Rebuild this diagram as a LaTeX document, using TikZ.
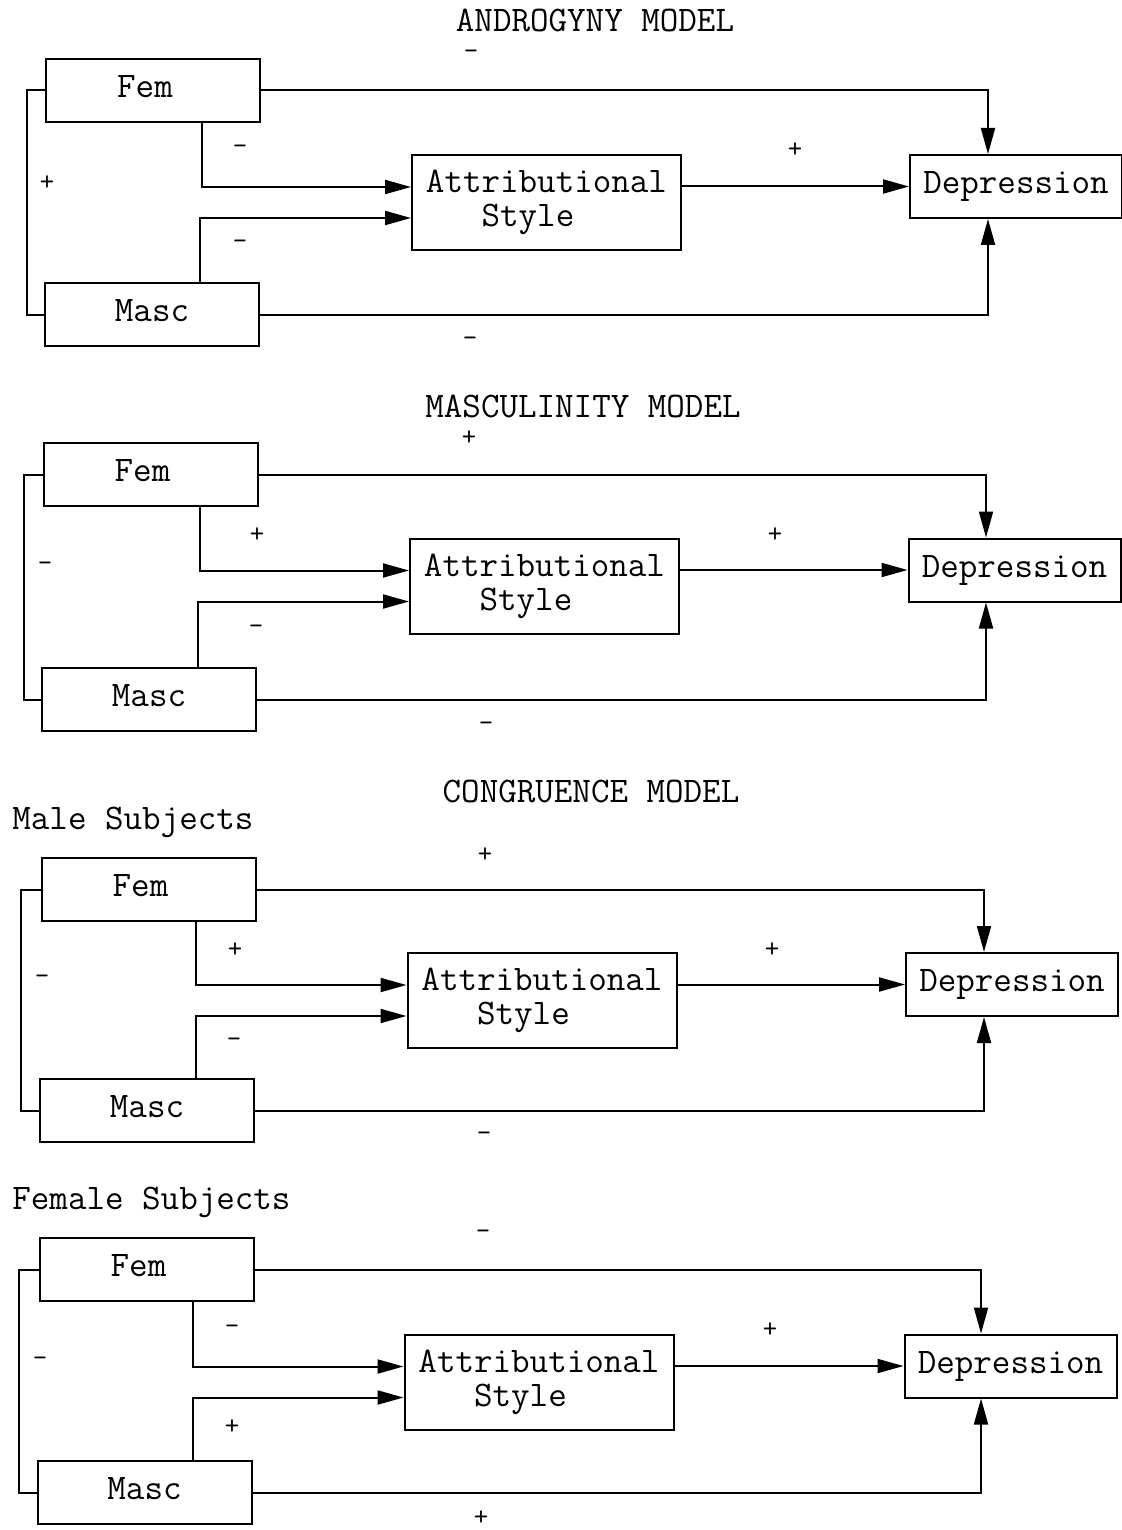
\documentclass[tikz,border=0pt]{standalone}
\usepackage{fontspec}
\usetikzlibrary{arrows.meta}
\tikzset{
  box/.style={draw, line width=1pt, inner sep=0pt, font=\ttfamily\fontsize{18}{17}\selectfont},
  smallbox/.style={box, minimum width=107pt, minimum height=31.5pt, text height=11pt, text depth=4pt},
  asbox/.style={box, minimum width=134.5pt, minimum height=47.5pt, align=left},
  depbox/.style={box, minimum width=106pt, minimum height=31.5pt, text height=11pt, text depth=4pt},
  lab/.style={font=\ttfamily\fontsize{18}{17}\selectfont, inner sep=0pt},
  sign/.style={font=\ttfamily\fontsize{14}{14}\selectfont, inner sep=0pt},
  conn/.style={line width=1pt},
  arr/.style={conn, -{Triangle[length=13pt,width=7pt]}},
}
\newcommand{\astext}{Attributional\\\phantom{AAA}Style}
\newcommand{\femtext}{Fem\kern8pt}
\begin{document}
\begin{tikzpicture}[x=0.5pt,y=-0.5pt]
\useasboundingbox (0,0) rectangle (1121,1530);

% ---------------- Panel 1: Androgyny ----------------
\node[lab] (t1) at (595,20) {ANDROGYNY MODEL};
\node[smallbox] (f1) at (153,90.5) {\femtext};
\node[smallbox] (m1) at (152,314.5) {Masc};
\node[asbox] (a1) at (546.5,202.5) {\astext};
\node[depbox] (d1) at (1016,186.5) {Depression};
\draw[conn] (f1.west) -- (27,0 |- f1.west) |- (m1.west);
\draw[arr] (202,0 |- f1.south) |- ([yshift=7.75pt]a1.west);
\draw[arr] (200,0 |- m1.north) |- ([yshift=-7.75pt]a1.west);
\draw[arr] (a1.east |- d1.west) -- (d1.west);
\draw[arr] (f1.east) -| (988,0 |- d1.north);
\draw[arr] (m1.east) -| (988,0 |- d1.south);
\node[sign] (s11) at (471,55) {–};
\node[sign] (s12) at (240,150) {–};
\node[sign] (s13) at (47,183) {+};
\node[sign] (s14) at (240,245) {–};
\node[sign] (s15) at (795,150) {+};
\node[sign] (s16) at (470,342) {–};

% ---------------- Panel 2: Masculinity ----------------
\node[lab] (t2) at (583,406) {MASCULINITY MODEL};
\node[smallbox] (f2) at (150.5,474.5) {\femtext};
\node[smallbox] (m2) at (149,699.5) {Masc};
\node[asbox] (a2) at (544.5,586) {\astext};
\node[depbox] (d2) at (1014.5,570) {Depression};
\draw[conn] (f2.west) -- (24,0 |- f2.west) |- (m2.west);
\draw[arr] (200,0 |- f2.south) |- ([yshift=7.75pt]a2.west);
\draw[arr] (198,0 |- m2.north) |- ([yshift=-7.75pt]a2.west);
\draw[arr] (a2.east |- d2.west) -- (d2.west);
\draw[arr] (f2.east) -| (986,0 |- d2.north);
\draw[arr] (m2.east) -| (986,0 |- d2.south);
\node[sign] (s21) at (469,438) {+};
\node[sign] (s22) at (257,535) {+};
\node[sign] (s23) at (45,567) {–};
\node[sign] (s24) at (256,630) {–};
\node[sign] (s25) at (775,535) {+};
\node[sign] (s26) at (486,727) {–};

% ---------------- Panel 3: Congruence, male ----------------
\node[lab] (t3) at (591,791) {CONGRUENCE MODEL};
\node[lab, anchor=west] (ms) at (12,822) {Male Subjects};
\node[smallbox] (f3) at (148.5,889.5) {\femtext};
\node[smallbox] (m3) at (147,1110.5) {Masc};
\node[asbox] (a3) at (542,1000.5) {\astext};
\node[depbox] (d3) at (1012,984.5) {Depression};
\draw[conn] (f3.west) -- (21,0 |- f3.west) |- (m3.west);
\draw[arr] (196,0 |- f3.south) |- ([yshift=7.75pt]a3.west);
\draw[arr] (196,0 |- m3.north) |- ([yshift=-7.75pt]a3.west);
\draw[arr] (a3.east |- d3.west) -- (d3.west);
\draw[arr] (f3.east) -| (984,0 |- d3.north);
\draw[arr] (m3.east) -| (984,0 |- d3.south);
\node[sign] (s31) at (485,855) {+};
\node[sign] (s32) at (235,950) {+};
\node[sign] (s33) at (42,980) {–};
\node[sign] (s34) at (234,1043) {–};
\node[sign] (s35) at (772,950) {+};
\node[sign] (s36) at (484,1137) {–};

% ---------------- Panel 4: Congruence, female ----------------
\node[lab, anchor=west] (fs) at (12,1202) {Female Subjects};
\node[smallbox] (f4) at (146.5,1269.5) {\femtext};
\node[smallbox] (m4) at (144.5,1492.5) {Masc};
\node[asbox] (a4) at (539,1382) {\astext};
\node[depbox] (d4) at (1010.5,1366) {Depression};
\draw[conn] (f4.west) -- (19,0 |- f4.west) |- (m4.west);
\draw[arr] (193,0 |- f4.south) |- ([yshift=7.75pt]a4.west);
\draw[arr] (193,0 |- m4.north) |- ([yshift=-7.75pt]a4.west);
\draw[arr] (a4.east |- d4.west) -- (d4.west);
\draw[arr] (f4.east) -| (981,0 |- d4.north);
\draw[arr] (m4.east) -| (981,0 |- d4.south);
\node[sign] (s41) at (483,1235) {–};
\node[sign] (s42) at (232,1330) {–};
\node[sign] (s43) at (40,1362) {–};
\node[sign] (s44) at (232,1427) {+};
\node[sign] (s45) at (770,1330) {+};
\node[sign] (s46) at (481,1518) {+};
\end{tikzpicture}
\end{document}
